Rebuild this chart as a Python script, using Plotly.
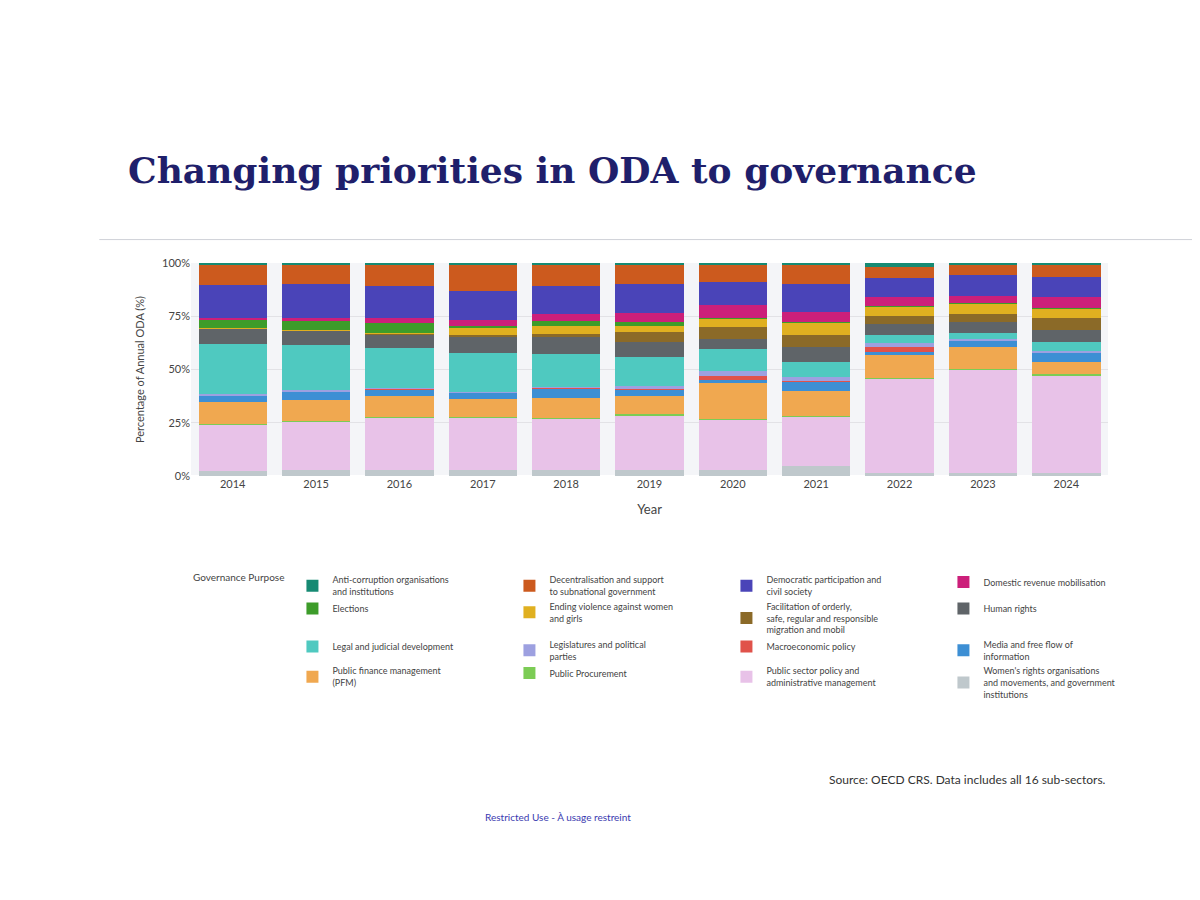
import plotly.graph_objects as go

years = ["2014", "2015", "2016", "2017", "2018", "2019", "2020", "2021", "2022", "2023", "2024"]

# shares of annual ODA (%) per governance purpose
anti_corruption = [0.5, 0.5, 0.5, 0.5, 0.5, 0.5, 0.5, 0.5, 2.0, 0.5, 0.5]
decentralisation = [9.7, 9.7, 10.5, 12.8, 10.5, 9.4, 8.6, 9.4, 5.0, 5.2, 6.2]
democratic = [16.0, 16.0, 15.0, 14.0, 13.3, 14.0, 11.0, 13.6, 9.0, 10.0, 9.8]
domestic_revenue = [0.5, 1.5, 2.8, 3.0, 3.0, 4.0, 6.0, 4.7, 4.2, 3.6, 5.0]
elections = [4.0, 4.0, 4.4, 0.8, 2.3, 2.0, 0.5, 0.5, 0.3, 0.3, 0.3]
ending_violence = [0.3, 0.3, 0.5, 3.4, 4.0, 3.0, 4.0, 6.0, 4.7, 4.7, 4.4]
facilitation = [0.2, 0.2, 0.3, 1.0, 1.5, 4.7, 5.5, 5.5, 4.0, 4.2, 5.8]
human_rights = [7.0, 6.6, 6.5, 7.8, 7.8, 7.0, 5.0, 7.3, 5.0, 5.0, 6.2]
legal_judicial = [24.0, 21.6, 19.0, 18.5, 15.6, 14.0, 10.6, 7.5, 3.6, 3.0, 4.2]
legislatures = [0.5, 0.5, 0.5, 0.5, 0.5, 1.5, 2.0, 1.5, 2.3, 0.5, 0.5]
macroeconomic = [0.2, 0.2, 0.2, 0.2, 0.2, 0.3, 2.0, 0.5, 2.3, 0.3, 0.3]
media = [3.0, 4.0, 3.0, 3.0, 4.4, 3.0, 1.5, 4.7, 1.5, 3.0, 4.4]
pfm = [10.5, 10.0, 10.0, 8.6, 9.7, 8.6, 17.0, 11.7, 10.5, 10.5, 6.0]
public_procurement = [0.3, 0.3, 0.3, 0.3, 0.3, 0.3, 0.3, 0.3, 0.3, 0.3, 0.3]
public_sector = [22.0, 22.7, 25.0, 25.0, 24.0, 26.0, 24.0, 24.0, 45.0, 49.7, 47.0]
womens_rights = [2.3, 3.0, 3.0, 3.0, 3.0, 3.0, 3.0, 4.7, 1.5, 1.5, 1.5]

series = [
    ("Anti-corruption organisations<br>and institutions", anti_corruption, "#168a73"),
    ("Decentralisation and support<br>to subnational government", decentralisation, "#cc5a1e"),
    ("Democratic participation and<br>civil society", democratic, "#4a44b8"),
    ("Domestic revenue mobilisation", domestic_revenue, "#cc1f7a"),
    ("Elections", elections, "#3d9c2a"),
    ("Ending violence against women<br>and girls", ending_violence, "#e0b020"),
    ("Facilitation of orderly,<br>safe, regular and responsible<br>migration and mobil", facilitation, "#8b6a28"),
    ("Human rights", human_rights, "#5f6468"),
    ("Legal and judicial development", legal_judicial, "#4fc9c0"),
    ("Legislatures and political<br>parties", legislatures, "#9da0e0"),
    ("Macroeconomic policy", macroeconomic, "#e0524a"),
    ("Media and free flow of<br>information", media, "#3d8fd4"),
    ("Public finance management<br>(PFM)", pfm, "#f0a850"),
    ("Public Procurement", public_procurement, "#7ccc55"),
    ("Public sector policy and<br>administrative management", public_sector, "#e8c2e8"),
    ("Women's rights organisations<br>and movements, and government<br>institutions", womens_rights, "#bfc8cc"),
]

fig = go.Figure()
# stack bottom-up in reverse alphabetical order
for name, vals, col in reversed(series):
    fig.add_trace(go.Bar(x=years, y=vals, name=name, marker_color=col,
                         marker_line_width=0))

fig.update_layout(
    width=1200, height=900,
    barmode="stack", barnorm="percent", bargap=0.18,
    paper_bgcolor="white", plot_bgcolor="#f4f5f8",
    font=dict(family="Lato", size=11, color="#444"),
    margin=dict(l=183, r=100, t=255, b=432),
    title=dict(text="<b>Changing priorities in ODA to governance</b>",
               font=dict(family="DejaVu Serif", size=36, color="#1f1f6b"),
               x=0.1, xanchor="left", y=0.82, yanchor="middle"),
    xaxis=dict(title=dict(text="Year", font=dict(size=13)), showgrid=False),
    yaxis=dict(title=dict(text="Percentage of Annual ODA (%)", font=dict(size=11)),
               range=[0, 100], tickvals=[0, 25, 50, 75, 100],
               ticktext=["0%", "25%", "50%", "75%", "100%"],
               gridcolor="#e2e2e6"),
    legend=dict(orientation="h", traceorder="reversed",
                x=0.0, xanchor="left", y=-0.43, yanchor="top",
                entrywidth=172, font=dict(size=9),
                title=dict(text="Governance Purpose", side="left",
                           font=dict(size=10)),
                itemsizing="constant"),
)

fig.add_shape(type="line", xref="paper", yref="paper", x0=-0.1, x1=1.1, y0=1.11, y1=1.11,
              line=dict(color="#cfd2d8", width=1))
fig.add_annotation(text="Source: OECD CRS. Data includes all 16 sub-sectors.",
                   xref="paper", yref="paper", x=1.0, y=-1.47, xanchor="right",
                   showarrow=False, font=dict(size=12, color="#333"))
fig.add_annotation(text="Restricted Use - À usage restreint",
                   xref="paper", yref="paper", x=0.4, y=-1.64, xanchor="center",
                   showarrow=False, font=dict(size=10, color="#3a3ab0"))

fig.write_html("out.html")
